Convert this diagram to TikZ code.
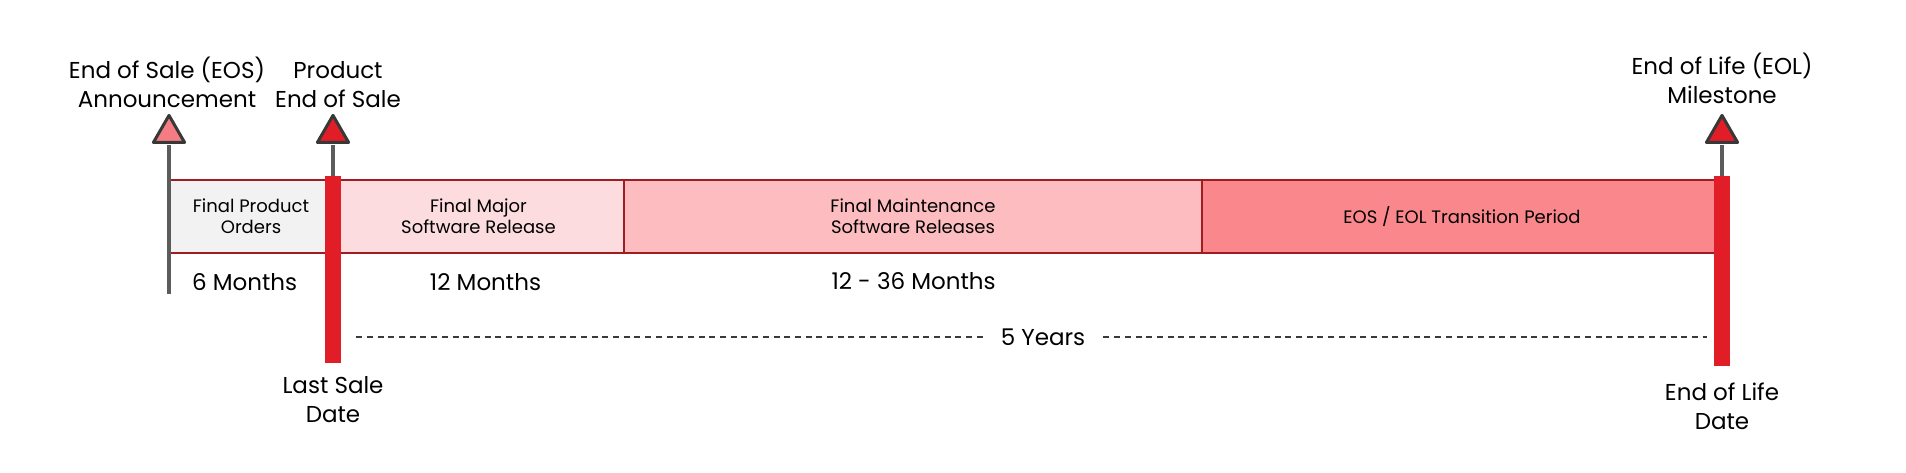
\documentclass[tikz,border=0pt]{standalone}
\usepackage{fontspec}
\setmainfont{Poppins}
\usetikzlibrary{shapes.geometric}
\definecolor{boxgray}{HTML}{F2F2F2}
\definecolor{pinklight}{HTML}{FCDCDE}
\definecolor{pinkmid}{HTML}{FDBDC0}
\definecolor{pinkdeep}{HTML}{FA878B}
\definecolor{edgered}{HTML}{9E1C22}
\definecolor{barred}{HTML}{E11D27}
\definecolor{trilight}{HTML}{F47C82}
\definecolor{tristroke}{HTML}{383838}
\definecolor{stemgray}{HTML}{5C5C5C}
\definecolor{dashgray}{HTML}{3A3A3A}
\begin{document}
\begin{tikzpicture}[x=1pt,y=-1pt,
	period box/.style={draw=edgered, line width=2pt, minimum height=73pt, inner sep=0pt, align=center, font=\fontsize{18}{21}\selectfont},
	date bar/.style={fill=barred, minimum width=16pt, inner sep=0pt},
	tri head/.style={regular polygon, regular polygon sides=3, minimum size=36pt, inner sep=0pt, draw=tristroke, line width=3pt, line join=round},
	stem line/.style={draw=stemgray, line width=3.5pt},
	milestone text/.style={align=center, inner sep=0pt, font=\fontsize{23}{29}\selectfont},
	span line/.style={draw=dashgray, line width=1.5pt, dash pattern=on 6pt off 4.7pt}]
		\useasboundingbox (0,0) rectangle (1906,472);
		
		% phases
		\node[period box, fill=boxgray, minimum width=164pt] (orders) at (251,216.5) {Final Product\\Orders};
		\node[period box, fill=pinklight, minimum width=291pt] (major) at (478.5,216.5) {Final Major\\Software Release};
		\node[period box, fill=pinkmid, minimum width=578pt] (maint) at (913,216.5) {Final Maintenance\\Software Releases};
		\node[period box, fill=pinkdeep, minimum width=520pt] (transition) at (1462,216.5) {EOS / EOL Transition Period};
		
		% dates
		\node[date bar, minimum height=187pt] (lastsale) at (333,269.5) {};
		\node[date bar, minimum height=190pt] (eolbar) at (1722,271) {};
		
		% milestones
		\node[tri head, fill=trilight] (eosann) at (169,133.4) {};
		\node[tri head, fill=barred] (prodeos) at (333,133.4) {};
		\node[tri head, fill=barred] (eolmile) at (1722,133.4) {};
		\coordinate (eosfoot) at (169,294);
		\draw[stem line, shorten <=1.5pt] (eosann.south) -- (eosfoot);
		\draw[stem line, shorten <=1.5pt] (prodeos.south) -- (lastsale.north);
		\draw[stem line, shorten <=1.5pt] (eolmile.south) -- (eolbar.north);
		
		\node[milestone text, anchor=south] (eostext) at (167,108) {End of Sale (EOS)\\Announcement};
		\node[milestone text, anchor=south] (prodtext) at (338,108) {Product\\End of Sale};
		\node[milestone text, anchor=south] (eoltext) at (1722,104) {End of Life (EOL)\\Milestone};
		\node[milestone text, anchor=south] (lastsaletext) at (333,423) {Last Sale\\Date};
		\node[milestone text, anchor=south] (eoldatetext) at (1722,429.5) {End of Life\\Date};
		
		% durations
		\node[milestone text, anchor=base] (sixmo) at (244.6,290) {6 Months};
		\node[milestone text, anchor=base] (twelvemo) at (485.5,290) {12 Months};
		\node[milestone text, anchor=base] (maintmo) at (913.6,289) {12 - 36 Months};
		\node[milestone text, anchor=base, inner xsep=18pt] (years) at (1043,345) {5 Years};
		\draw[span line] ([xshift=15pt]lastsale.east |- years.west) -- (years.west);
		\draw[span line] (years.east) -- ([xshift=-7pt]eolbar.west |- years.east);
	\end{tikzpicture}
\end{document}
